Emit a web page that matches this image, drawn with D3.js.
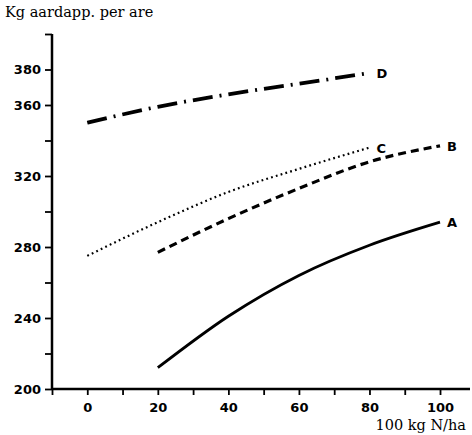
<!DOCTYPE html>
<html>
<head>
<meta charset="utf-8">
<script src="https://cdn.jsdelivr.net/npm/d3@7"></script>
<style>
  body { margin: 0; background: #fff; }
  .tick text { font-family: "DejaVu Sans", sans-serif; font-weight: bold; font-size: 13px; }
</style>
</head>
<body>
<svg id="chart" width="472" height="435"></svg>
<script>
// stikstofgift (kg N/ha) per serie
const nA = [20, 40, 60, 80, 100];
const yieldA = [212, 241, 264, 281, 294];
const nB = [20, 40, 60, 80, 100];
const yieldB = [277, 296, 313, 328, 337];
const nC = [0, 20, 40, 60, 80];
const yieldC = [275, 294, 311, 324, 336];
const nD = [0, 20, 40, 60, 80];
const yieldD = [350, 359, 366, 372, 378];

const seriesNames = ["A", "B", "C", "D"];
const xTicks = [-10, 0, 10, 20, 30, 40, 50, 60, 70, 80, 90, 100];
const xLabels = [0, 20, 40, 60, 80, 100];
const yTicks = [200, 220, 240, 260, 280, 300, 320, 340, 360, 380, 400];
const yLabels = [200, 240, 280, 320, 360, 380];

const svg = d3.select("#chart");

const x = d3.scaleLinear().domain([-10, 108.5]).range([52, 470]);
const y = d3.scaleLinear().domain([200, 400]).range([389, 34]);

// titels
svg.append("text")
  .attr("x", 5).attr("y", 17)
  .style("font-family", "'DejaVu Serif', serif")
  .style("font-size", "14.5px")
  .text("Kg aardapp. per are");

svg.append("text")
  .attr("x", 466).attr("y", 430)
  .attr("text-anchor", "end")
  .style("font-family", "'DejaVu Serif', serif")
  .style("font-size", "14.5px")
  .text("100 kg N/ha");

// assen
const xAxis = svg.append("g")
  .attr("transform", `translate(0,${y(200)})`)
  .call(d3.axisBottom(x)
    .tickValues(xTicks)
    .tickSize(6)
    .tickFormat(d => xLabels.includes(d) ? d : ""));
xAxis.select(".domain").attr("stroke-width", 2.5).attr("d", `M52,0H470`);
xAxis.selectAll(".tick line").attr("stroke-width", 1.8);
xAxis.selectAll(".tick text").attr("dy", "1.1em");

const yAxis = svg.append("g")
  .attr("transform", `translate(${x(-10)},0)`)
  .call(d3.axisLeft(y)
    .tickValues(yTicks)
    .tickSize(7)
    .tickFormat(d => yLabels.includes(d) ? d : ""));
yAxis.select(".domain").attr("stroke-width", 2.5).attr("d", `M0,${y(200)}V${y(400)}`);
yAxis.selectAll(".tick line").attr("stroke-width", 1.8);
yAxis.selectAll(".tick text").attr("x", -11);

// lijnen
const series = [
  { name: "A", n: nA, v: yieldA, dash: null, width: 2.8 },
  { name: "B", n: nB, v: yieldB, dash: "8,5", width: 3.2 },
  { name: "C", n: nC, v: yieldC, dash: "1.8,3.2", width: 2.2 },
  { name: "D", n: nD, v: yieldD, dash: "20,7,2,7", width: 3.8 }
];

const line = d3.line()
  .x(d => x(d[0]))
  .y(d => y(d[1]))
  .curve(d3.curveMonotoneX);

series.forEach(function (s) {
  const pts = s.n.map((d, i) => [d, s.v[i]]);
  svg.append("path")
    .attr("d", line(pts))
    .attr("fill", "none")
    .attr("stroke", "#000")
    .attr("stroke-width", s.width)
    .attr("stroke-dasharray", s.dash);

  const last = pts[pts.length - 1];
  svg.append("text")
    .attr("x", x(last[0]) + 7)
    .attr("y", y(last[1]) + 5)
    .style("font-family", "'DejaVu Sans', sans-serif")
    .style("font-weight", "bold")
    .style("font-size", "13px")
    .text(s.name);
});
</script>
</body>
</html>
